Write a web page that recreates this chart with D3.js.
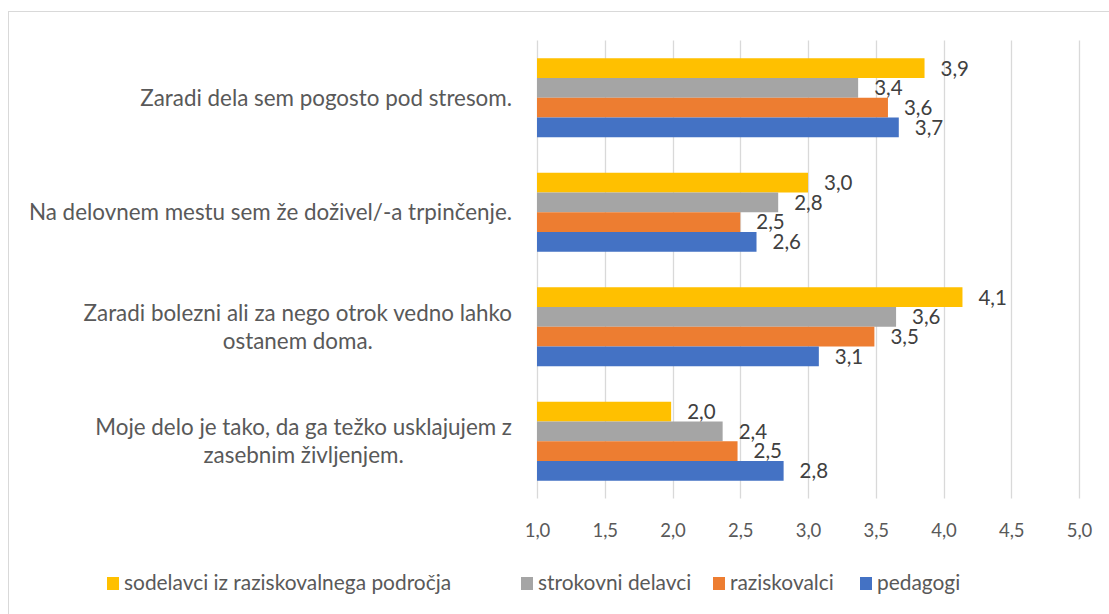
<!DOCTYPE html>
<html><head><meta charset="utf-8">
<script src="https://cdn.jsdelivr.net/npm/d3@7"></script>
<style>body{margin:0;background:#fff;} svg{display:block;}</style>
</head><body>
<svg id="c" width="1109" height="614"></svg>
<script>
const categories = [
  ["Zaradi dela sem pogosto pod stresom."],
  ["Na delovnem mestu sem že doživel/-a trpinčenje."],
  ["Zaradi bolezni ali za nego otrok vedno lahko", "ostanem doma."],
  ["Moje delo je tako, da ga težko usklajujem z", "zasebnim življenjem."]
];
const seriesNames = ["sodelavci iz raziskovalnega področja", "strokovni delavci", "raziskovalci", "pedagogi"];
const seriesColors = ["#FFC000", "#A5A5A5", "#ED7D31", "#4472C4"];
const sodelavci = [3.86, 3.0, 4.14, 1.99];
const strokovni = [3.37, 2.78, 3.65, 2.37];
const raziskovalci = [3.59, 2.5, 3.49, 2.48];
const pedagogi = [3.67, 2.62, 3.08, 2.82];
const seriesValues = [sodelavci, strokovni, raziskovalci, pedagogi];
const xTicks = [1.0, 1.5, 2.0, 2.5, 3.0, 3.5, 4.0, 4.5, 5.0];

const svg = d3.select("#c");
const font = "Lato, 'Open Sans', sans-serif";
const txt = "#595959";
const fmt = v => v.toFixed(1).replace(".", ",");

svg.append("rect").attr("x", 8.5).attr("y", 11.5).attr("width", 1110).attr("height", 620)
  .attr("fill", "none").attr("stroke", "#d9d9d9").attr("stroke-width", 1);

const x = d3.scaleLinear().domain([1, 5]).range([537, 1079]);
const y = d3.scaleBand().domain(d3.range(categories.length)).range([40.5, 498.5]).paddingInner(0.31).paddingOuter(0.155);
const yInner = d3.scaleBand().domain(d3.range(seriesNames.length)).range([0, y.bandwidth()]);

// gridlines
svg.append("g").selectAll("line").data(xTicks).join("line")
  .attr("x1", d => Math.round(x(d)) + 0.5).attr("x2", d => Math.round(x(d)) + 0.5)
  .attr("y1", 40.5).attr("y2", 498.5)
  .attr("stroke", "#d9d9d9").attr("stroke-width", 1.3);

// x axis labels
const xAxis = d3.axisBottom(x).tickValues(xTicks).tickFormat(fmt).tickSize(0);
const gx = svg.append("g").attr("transform", "translate(0,498)").call(xAxis);
gx.select(".domain").remove();
gx.selectAll("text").attr("dy", 0).attr("y", 39).attr("font-family", font).attr("font-size", 18.5).attr("fill", txt);

// bars
const groups = svg.append("g").selectAll("g").data(categories).join("g")
  .attr("transform", (d, i) => `translate(0,${y(i)})`);
groups.each(function(d, ci) {
  const g = d3.select(this);
  seriesValues.forEach((vals, si) => {
    const v = vals[ci];
    g.append("rect").attr("x", x(1)).attr("y", yInner(si))
      .attr("width", x(v) - x(1)).attr("height", yInner.bandwidth())
      .attr("fill", seriesColors[si]);
    g.append("text").attr("x", x(v) + 16).attr("y", yInner(si) + yInner.bandwidth() / 2)
      .attr("dy", "0.36em").attr("font-family", font).attr("font-size", 20.5).attr("fill", "#404040")
      .text(fmt(v));
  });
});

// category labels
categories.forEach((lines, ci) => {
  const cy = y(ci) + y.bandwidth() / 2;
  const t = svg.append("text").attr("font-family", font).attr("font-size", 22.4).attr("fill", txt).attr("text-anchor", "middle");
  const lh = 28;
  const spans = lines.map((l, li) => t.append("tspan").text(l).attr("y", cy + (li - (lines.length - 1) / 2) * lh).attr("dy", "0.36em"));
  const maxw = d3.max(spans, s => s.node().getComputedTextLength());
  spans.forEach(s => s.attr("x", 512 - maxw / 2));
});

// legend
const legendX = [107, 521, 713, 860];
seriesNames.forEach((n, i) => {
  svg.append("rect").attr("x", legendX[i]).attr("y", 577).attr("width", 12).attr("height", 13).attr("fill", seriesColors[i]);
  svg.append("text").attr("x", legendX[i] + 17).attr("y", 590).attr("font-family", font).attr("font-size", 20.9).attr("fill", txt).text(n);
});
</script>
</body></html>
